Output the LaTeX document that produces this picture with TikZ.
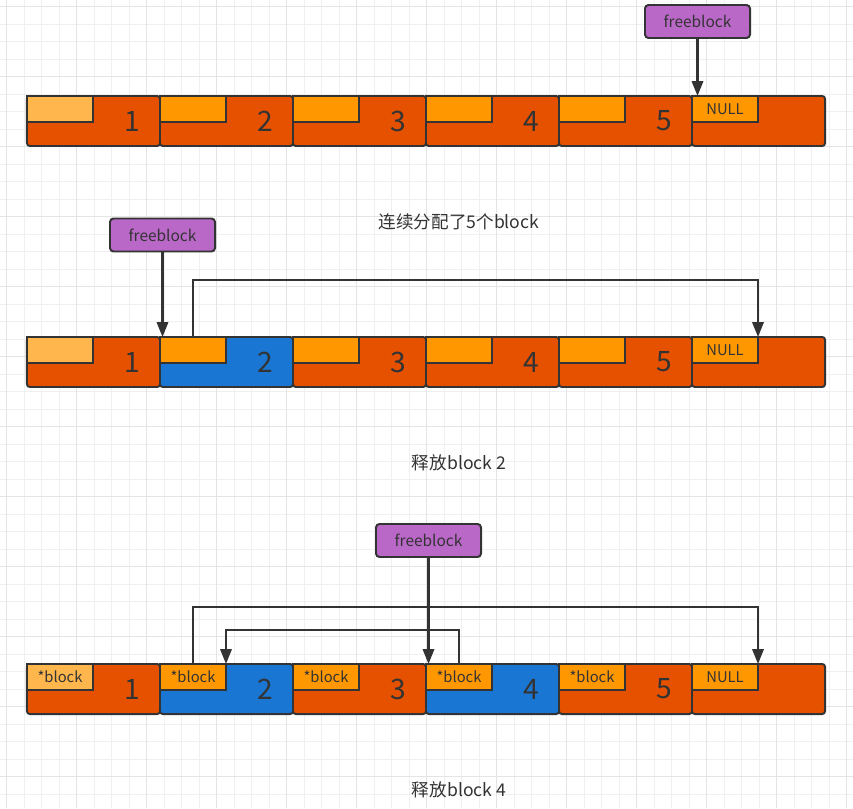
\documentclass[tikz,border=0pt]{standalone}
\usepackage{fontspec}
\setmainfont{Noto Sans CJK SC}
\usepackage{tikz}
\usetikzlibrary{arrows.meta}

\definecolor{blkred}{HTML}{E65100}
\definecolor{blkorange}{HTML}{FF9800}
\definecolor{blklight}{HTML}{FFB74D}
\definecolor{blkblue}{HTML}{1976D2}
\definecolor{fbpurple}{HTML}{BA68C8}
\definecolor{ink}{HTML}{333333}
\definecolor{gridminor}{HTML}{F0F0F0}
\definecolor{gridmajor}{HTML}{E4E4E4}

\tikzset{
    block/.style={rectangle, draw=ink, line width=1.4pt, rounded corners=2pt, outer sep=0pt, minimum width=3.325cm, minimum height=1.25cm},
    slot/.style={rectangle, draw=ink, line width=1.4pt, outer sep=0pt, inner sep=0pt, anchor=north west, minimum width=1.65cm, minimum height=0.65cm, text=ink, font=\fontsize{10.5}{12}\selectfont},
    numlabel/.style={text=ink, font=\fontsize{20}{23}\selectfont},
    freebox/.style={rectangle, draw=ink, fill=fbpurple, line width=1.4pt, rounded corners=2.5pt, outer sep=0pt, minimum width=2.625cm, minimum height=0.825cm, text=ink, font=\fontsize{11}{13}\selectfont},
    caption/.style={text=ink, font=\fontsize{12.5}{14}\selectfont},
    link/.style={draw=ink, line width=1.6pt, -{Triangle[length=10.5pt,width=8pt]}}
}

\begin{document}
\begin{tikzpicture}[x=0.025cm, y=-0.025cm]
    \useasboundingbox (0,0) rectangle (853,808);
    % Background grid
    \foreach \k in {0,...,48} {
        \draw[gridminor, line width=0.6pt] (6.5+17.5*\k, 0) -- (6.5+17.5*\k, 808);
    }
    \foreach \k in {0,...,45} {
        \draw[gridminor, line width=0.6pt] (0, 6.5+17.5*\k) -- (853, 6.5+17.5*\k);
    }
    \foreach \k in {0,...,12} {
        \draw[gridmajor, line width=0.9pt] (6.5+70*\k, 0) -- (6.5+70*\k, 808);
    }
    \foreach \k in {0,...,11} {
        \draw[gridmajor, line width=0.9pt] (0, 6.5+70*\k) -- (853, 6.5+70*\k);
    }

    % Row 1: five blocks allocated
    \foreach \i/\bc/\sc/\txt in {1/blkred/blklight/{}, 2/blkred/blkorange/{}, 3/blkred/blkorange/{}, 4/blkred/blkorange/{}, 5/blkred/blkorange/{}, 6/blkred/blkorange/NULL} {
        \node[block, fill=\bc] (b1\i) at (93.5+133*\i-133, 121) {};
        \node[slot, fill=\sc] (s1\i) at (b1\i.north west) {\txt};
    }
    \foreach \i in {1,...,5} {
        \node[numlabel] (n1\i) at ([xshift=2.625cm]b1\i.west) {\i};
    }
    \node[freebox] (fb1) at (697.5, 21.5) {freeblock};
    \node[caption] (cap1) at (459, 222) {连续分配了5个block};
    \draw[link] (fb1.south) -- (fb1.south |- b16.north);

    % Row 2: block 2 freed
    \foreach \i/\bc/\sc/\txt in {1/blkred/blklight/{}, 2/blkblue/blkorange/{}, 3/blkred/blkorange/{}, 4/blkred/blkorange/{}, 5/blkred/blkorange/{}, 6/blkred/blkorange/NULL} {
        \node[block, fill=\bc] (b2\i) at (93.5+133*\i-133, 362) {};
        \node[slot, fill=\sc] (s2\i) at (b2\i.north west) {\txt};
    }
    \foreach \i in {1,...,5} {
        \node[numlabel] (n2\i) at ([xshift=2.625cm]b2\i.west) {\i};
    }
    \node[freebox] (fb2) at (162.5, 235) {freeblock};
    \node[caption] (cap2) at (459, 463) {释放block 2};
    \draw[link] (fb2.south) -- (fb2.south |- b22.north);
    \draw[link] (s22.north) -- ++(0,-57) -| (s26.north east);

    % Row 3: block 4 freed
    \foreach \i/\bc/\sc/\txt in {1/blkred/blklight/*block, 2/blkblue/blkorange/*block, 3/blkred/blkorange/*block, 4/blkblue/blkorange/*block, 5/blkred/blkorange/*block, 6/blkred/blkorange/NULL} {
        \node[block, fill=\bc] (b3\i) at (93.5+133*\i-133, 689) {};
        \node[slot, fill=\sc] (s3\i) at (b3\i.north west) {\txt};
    }
    \foreach \i in {1,...,5} {
        \node[numlabel] (n3\i) at ([xshift=2.625cm]b3\i.west) {\i};
    }
    \node[freebox] (fb3) at (428.5, 540.5) {freeblock};
    \node[caption] (cap3) at (459, 790) {释放block 4};
    \draw[link] (s32.north) -- ++(0,-57) -| (s36.north east);
    \draw[link] (s34.north) -- ++(0,-34) -| (s32.north east);
    \draw[link] (fb3.south) -- (fb3.south |- b34.north);
\end{tikzpicture}
\end{document}
